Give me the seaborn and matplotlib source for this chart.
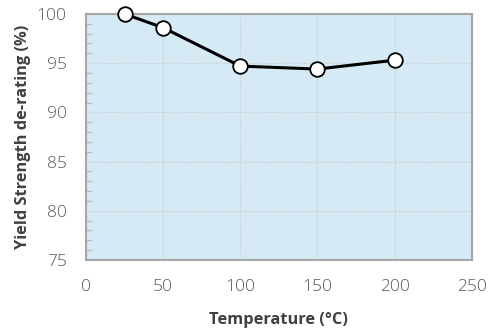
import matplotlib
matplotlib.use("Agg")
import matplotlib.pyplot as plt
import seaborn as sns
import pandas as pd
from matplotlib.ticker import MultipleLocator

temperature = [25, 50, 100, 150, 200]
yield_derating = [100.0, 98.6, 94.7, 94.4, 95.3]
x_ticks = [0, 50, 100, 150, 200, 250]
y_ticks = [75, 80, 85, 90, 95, 100]

df = pd.DataFrame({"Temperature": temperature, "Yield": yield_derating})

sns.set_style("white")
plt.rcParams['font.family'] = ['Open Sans', 'DejaVu Sans']

fig = plt.figure(figsize=(4.94, 3.32), dpi=100)
ax = fig.add_axes([0.174, 0.217, 0.781, 0.741])
ax.set_facecolor("#d5eaf5")

sns.lineplot(data=df, x="Temperature", y="Yield", ax=ax, color="black",
             linewidth=2.2, marker="o", markersize=10.5,
             markerfacecolor="white", markeredgecolor="black",
             markeredgewidth=1.3, zorder=5, clip_on=False)

ax.set_xlim(0, 250)
ax.set_ylim(75, 100)
ax.set_xticks(x_ticks)
ax.set_yticks(y_ticks)
ax.yaxis.set_minor_locator(MultipleLocator(1))

ax.grid(True, which="major", color="#cfcfcf", linestyle=(0, (1, 1)), linewidth=0.9)
ax.set_axisbelow(True)

for s in ax.spines.values():
    s.set_color("#a6a6a6")
    s.set_linewidth(1.5)

ax.tick_params(axis="both", which="major", direction="out", length=6,
               width=1.0, color="#bfbfbf", labelsize=12.5, labelcolor="#595959")
ax.tick_params(axis="x", which="major", pad=8)
ax.tick_params(axis="y", which="major", pad=8)
ax.tick_params(axis="y", which="minor", direction="in", length=4, width=1.0,
               color="#bfbfbf", left=True)
for lbl in ax.get_xticklabels() + ax.get_yticklabels():
    lbl.set_fontweight("light")

ax.set_xlabel("Temperature (°C)", fontsize=11.8, fontweight="bold", color="#404040", labelpad=12)
ax.set_ylabel("Yield Strength de-rating (%)", fontsize=11.8, fontweight="bold", color="#404040", labelpad=4)

fig.savefig("out.png", dpi=100)
